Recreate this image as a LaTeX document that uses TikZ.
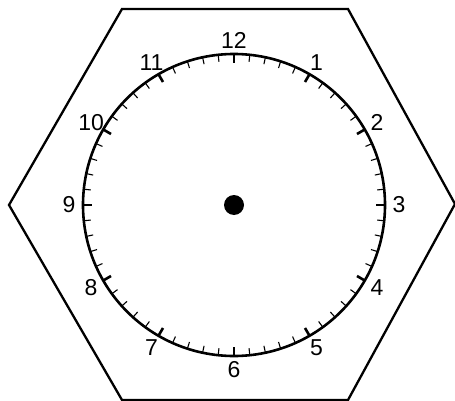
\documentclass[tikz,border=0pt]{standalone}
\usepackage{fontspec}
\setmainfont{Liberation Sans}

\tikzset{
  rim/.style={line width=2.3pt, line join=miter},
  face/.style={line width=2.6pt},
  minutetick/.style={line width=1.1pt},
  hourtick/.style={line width=2.6pt},
  numeral/.style={font=\fontsize{23}{23}\selectfont, inner sep=0pt}
}

\begin{document}
\begin{tikzpicture}[x=1pt, y=-1pt]
\useasboundingbox (0,0) rectangle (455,401);

% hexagon corners
\coordinate (h1) at (122,9);
\coordinate (h2) at (348,9);
\coordinate (h3) at (455,204);
\coordinate (h4) at (348,400);
\coordinate (h5) at (122,400);
\coordinate (h6) at (9,205);

\draw[rim] (h1) -- (h2) -- (h3) -- (h4) -- (h5) -- (h6) -- cycle;

% clock face
\coordinate (o) at (234,205);
\draw[face] (o) circle[radius=151];
\fill (o) circle[radius=10];

\begin{scope}[shift={(o)}]
\foreach \m in {0,...,59}{
  \draw[minutetick] (6*\m:151) -- (6*\m:144);
}
\foreach \h in {1,...,12}{
  \draw[hourtick] (30*\h-90:151) -- (30*\h-90:142);
  \node[numeral] (n\h) at (30*\h-90:165) {\h};
}
\end{scope}

\end{tikzpicture}
\end{document}
